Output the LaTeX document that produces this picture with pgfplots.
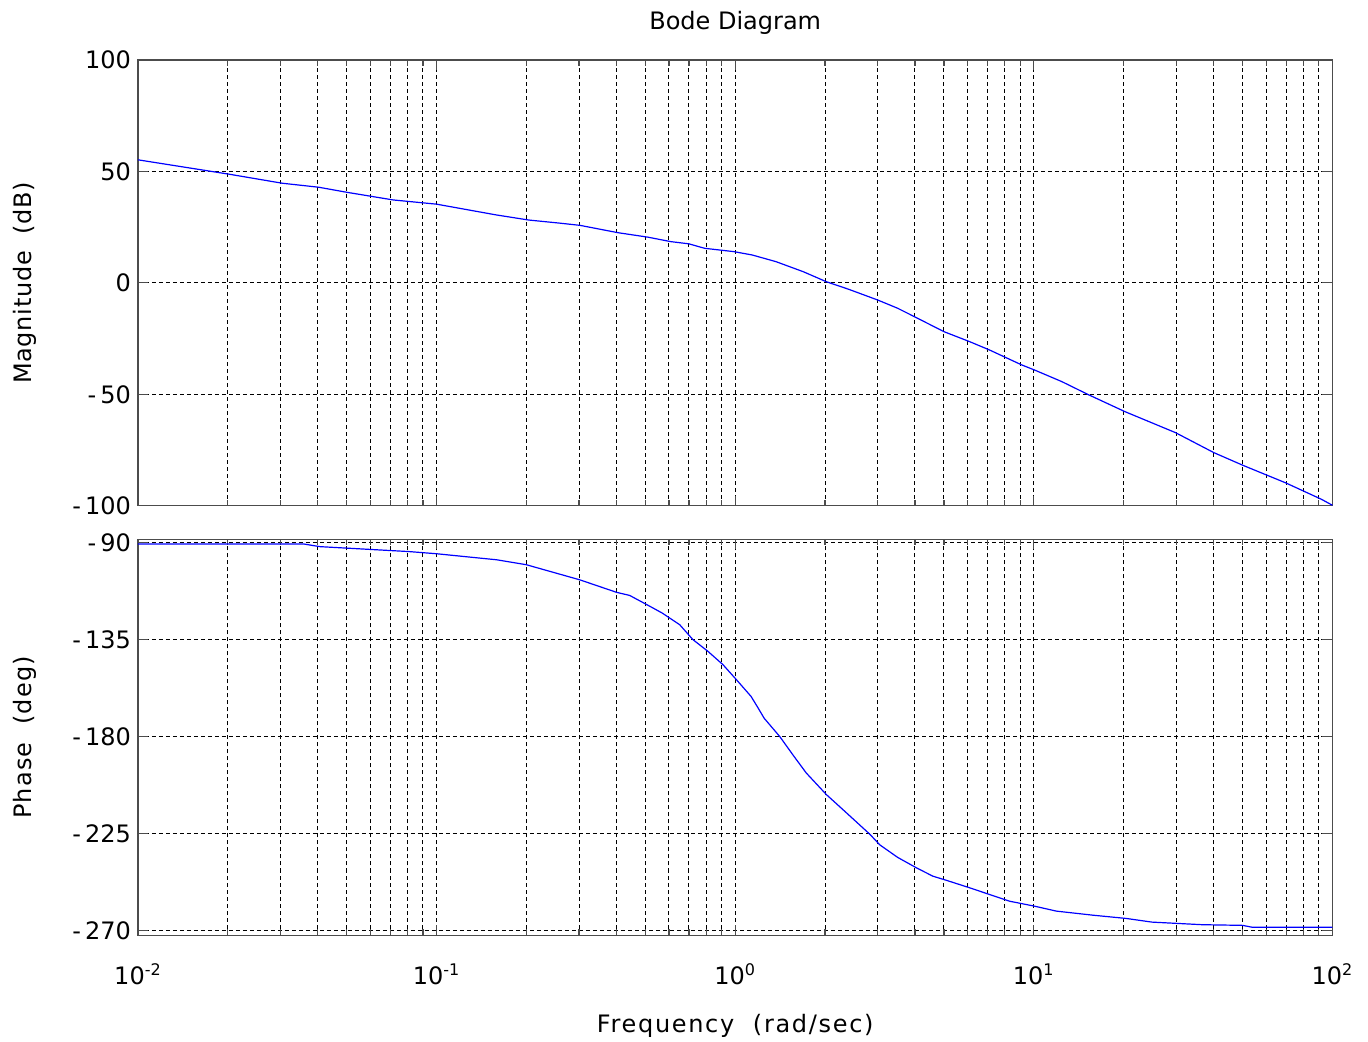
\documentclass[border=0pt]{standalone}
\usepackage{fontspec}
\setmainfont{DejaVu Sans}
\usepackage{pgfplots}
\pgfplotsset{compat=1.18}

\begin{document}
\begin{tikzpicture}[font=\fontsize{12}{14}\selectfont]
\useasboundingbox (-69pt,-53.25pt) rectangle (615pt,467.75pt);

% Magnitude
\begin{axis}[
  xmode=log, scale only axis, width=597.2pt, height=222.85pt,
  at={(0pt,214.9pt)}, anchor=south west,
  xmin=0.01, xmax=100,
  xtick={0.01,0.1,1,10,100},
  minor xtick={0.02,0.03,0.04,0.05,0.06,0.07,0.08,0.09,
               0.2,0.3,0.4,0.5,0.6,0.7,0.8,0.9,
               2,3,4,5,6,7,8,9,
               20,30,40,50,60,70,80,90},
  xmajorgrids=true, xminorgrids=true, ymajorgrids=true,
  major grid style={black, line width=0.5pt, dash pattern=on 2pt off 1.5pt},
  minor grid style={black, line width=0.5pt, dash pattern=on 2pt off 1.5pt},
  axis line style={black!70, line width=0.7pt},
  major tick length=5pt, minor tick length=3pt,
  tick style={black!70, line width=0.6pt},
  clip=false,
  ymin=-100, ymax=100,
  ytick={-100,-50,0,50,100},
  yticklabels={-\,100,-\,50,0,50,100},
  xticklabels={},
]
\addplot[blue, line width=0.6pt, mark=none] coordinates {
(0.01,55.2) (0.0203,48.7) (0.0304,44.7) (0.0403,42.9) (0.0502,40.6)
(0.0715,37.2) (0.1,35.3) (0.158,30.5) (0.203,28.2) (0.258,26.8) (0.302,25.8)
(0.405,22.5) (0.51,20.5) (0.608,18.5) (0.70,17.5) (0.79,15.5) (0.99,14.0)
(1.14,12.5) (1.37,9.5) (1.69,5.0) (2.02,0.5) (2.4,-2.9) (3.0,-7.7)
(3.5,-11.4) (4.04,-15.6) (5.0,-21.9) (6.1,-26.4) (7.1,-30.1) (9.1,-36.8)
(10.05,-39.1) (12.4,-44.3) (15.3,-50.3) (20.2,-57.8) (29.8,-67.2)
(40.1,-76.2) (50.4,-82.0) (69.6,-89.7) (91.8,-97.1) (100,-99.8)
};
\node[anchor=base] at (axis description cs:0.5,1.0689) {Bode Diagram};
\node[rotate=90, anchor=center] at (axis description cs:-0.0948,0.5)
  {\addfontfeatures{LetterSpace=3}Magnitude\ \ (dB)};
\end{axis}

% Phase
\begin{axis}[
  xmode=log, scale only axis, width=597.2pt, height=198.1pt,
  at={(0pt,0pt)}, anchor=south west,
  xmin=0.01, xmax=100,
  xtick={0.01,0.1,1,10,100},
  minor xtick={0.02,0.03,0.04,0.05,0.06,0.07,0.08,0.09,
               0.2,0.3,0.4,0.5,0.6,0.7,0.8,0.9,
               2,3,4,5,6,7,8,9,
               20,30,40,50,60,70,80,90},
  xmajorgrids=true, xminorgrids=true, ymajorgrids=true,
  major grid style={black, line width=0.5pt, dash pattern=on 2pt off 1.5pt},
  minor grid style={black, line width=0.5pt, dash pattern=on 2pt off 1.5pt},
  axis line style={black!70, line width=0.7pt},
  major tick length=5pt, minor tick length=3pt,
  tick style={black!70, line width=0.6pt},
  clip=false,
  ymin=-272.2, ymax=-88.6,
  ytick={-270,-225,-180,-135,-90},
  yticklabels={-\,270,-\,225,-\,180,-\,135,-\,90},
  xticklabels={10\textsuperscript{-2},10\textsuperscript{-1},10\textsuperscript{0},10\textsuperscript{1},10\textsuperscript{2}},
  xticklabel style={anchor=base, yshift=-24.25pt},
]
\addplot[blue, line width=0.6pt, mark=none] coordinates {
(0.01,-90.8) (0.036,-90.8) (0.0406,-92) (0.06,-93.3) (0.081,-94.3)
(0.1,-95.3) (0.159,-98.1) (0.2,-100.4) (0.302,-107.4) (0.401,-113.2)
(0.443,-114.6) (0.5,-118.5) (0.57,-122.8) (0.652,-128.2) (0.722,-135.1)
(0.81,-140.5) (0.910,-146.7) (1.01,-153.7) (1.13,-161.4) (1.19,-166.5)
(1.25,-171.5) (1.41,-180) (1.57,-189) (1.73,-196.9) (2.02,-206.9)
(2.36,-215.4) (2.82,-225.2) (3.05,-230.2) (3.5,-236) (4.04,-240.8)
(4.59,-244.7) (5.09,-246.6) (6.10,-250.1) (7.11,-253.2) (8.29,-256.3)
(10.05,-258.6) (11.9,-260.9) (15.8,-262.8) (20.4,-264.3) (24.9,-266.0)
(36.7,-267.2) (50,-267.5) (54,-268.4) (100,-268.4)
};
\node[rotate=90, anchor=center] at (axis description cs:-0.0948,0.5)
  {\addfontfeatures{LetterSpace=5}Phase\ \ (deg)};
\node[anchor=base] at (axis description cs:0.5,-0.2453)
  {\addfontfeatures{LetterSpace=7}Frequency\ \ (rad/sec)};
\end{axis}
\end{tikzpicture}
\end{document}
